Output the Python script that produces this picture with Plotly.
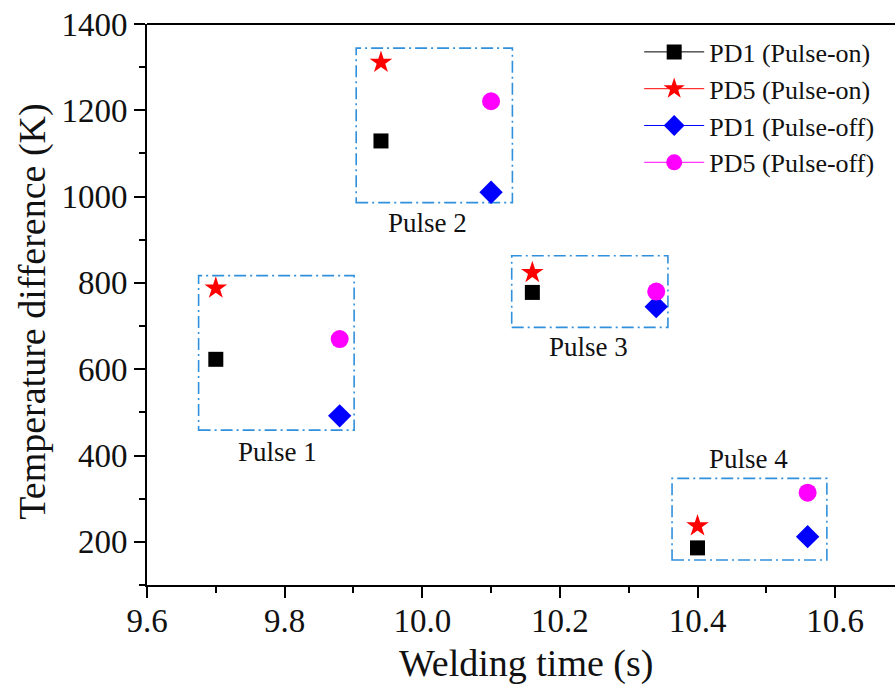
import plotly.graph_objects as go

# Welding time (s) of each pulse, on and off phases
time_on = [9.70, 9.94, 10.16, 10.40]
time_off = [9.88, 10.10, 10.34, 10.56]

# Temperature difference (K)
pd1_on = [623, 1129, 778, 186]
pd5_on = [788, 1311, 824, 237]
pd1_off = [492, 1010, 745, 212]
pd5_off = [670, 1221, 780, 314]

# Pulse grouping boxes: (x0, x1, y0, y1) and label anchor (x, y)
pulse_names = ["Pulse 1", "Pulse 2", "Pulse 3", "Pulse 4"]
box_x0 = [9.675, 9.904, 10.130, 10.363]
box_x1 = [9.901, 10.131, 10.357, 10.588]
box_y0 = [459, 986, 697, 158]
box_y1 = [817, 1344, 863, 347]
label_x = [9.79, 10.007, 10.241, 10.474]
label_y = [408, 938, 651, 393]

FONT = "Liberation Serif, Times New Roman, serif"

series = [
    ("PD1 (Pulse-on)", time_on, pd1_on, "square", "#000000", 15),
    ("PD5 (Pulse-on)", time_on, pd5_on, "star", "#ff0000", 17),
    ("PD1 (Pulse-off)", time_off, pd1_off, "diamond", "#0000ff", 18),
    ("PD5 (Pulse-off)", time_off, pd5_off, "circle", "#ff00ff", 18),
]

fig = go.Figure()
for name, xs, ys, sym, col, sz in series:
    fig.add_trace(go.Scatter(
        x=xs, y=ys, mode="markers", name=name, showlegend=False,
        marker=dict(symbol=sym, color=col, size=sz, line=dict(width=0)),
    ))
# legend entries drawn with a thin line through the symbol
for name, xs, ys, sym, col, sz in series:
    fig.add_trace(go.Scatter(
        x=[None], y=[None], mode="lines+markers", name=name,
        line=dict(color=col, width=1),
        marker=dict(symbol=sym, color=col, size=sz, line=dict(width=0)),
    ))

shapes = []
for x0, x1, y0, y1 in zip(box_x0, box_x1, box_y0, box_y1):
    shapes.append(dict(
        type="rect", xref="x", yref="y", x0=x0, x1=x1, y0=y0, y1=y1,
        line=dict(color="#3090dc", width=1.6, dash="12px,4px,2px,4px"),
        fillcolor="rgba(0,0,0,0)", layer="below",
    ))
# top frame line
shapes.append(dict(type="line", xref="paper", yref="paper", x0=0, x1=1, y0=1, y1=1,
                   line=dict(color="#000000", width=2)))

annotations = []
for name, lx, ly in zip(pulse_names, label_x, label_y):
    annotations.append(dict(
        x=lx, y=ly, xref="x", yref="y", text=name, showarrow=False,
        xanchor="center", yanchor="middle",
        font=dict(family=FONT, size=27, color="#111111"),
    ))
annotations.append(dict(
    x=0.5067, y=-0.14, xref="paper", yref="paper", text="Welding time (s)",
    showarrow=False, xanchor="center", yanchor="middle",
    font=dict(family=FONT, size=38, color="#111111"),
))
annotations.append(dict(
    x=-0.1524, y=0.487, xref="paper", yref="paper", text="Temperature difference (K)",
    showarrow=False, xanchor="center", yanchor="middle", textangle=-90,
    font=dict(family=FONT, size=38, color="#111111"),
))

axis_common = dict(
    showline=True, linecolor="#000000", linewidth=2, mirror=False,
    ticks="outside", ticklen=11, tickwidth=2, tickcolor="#000000",
    showgrid=False, zeroline=False,
    tickfont=dict(family=FONT, size=33, color="#111111"),
)

fig.update_layout(
    width=895, height=691,
    margin=dict(l=147, r=0, t=24, b=106),
    paper_bgcolor="#ffffff", plot_bgcolor="#ffffff",
    xaxis=dict(range=[9.6, 10.687], tick0=9.6, dtick=0.2, tickformat=".1f",
               ticklabelstandoff=-6,
               minor=dict(ticks="outside", ticklen=6, tickwidth=2, tickcolor="#000000", dtick=0.1),
               **axis_common),
    yaxis=dict(range=[100, 1400], tick0=200, dtick=200,
               minor=dict(ticks="outside", ticklen=6, tickwidth=2, tickcolor="#000000", dtick=100, tick0=100),
               **axis_common),
    legend=dict(x=0.658, y=0.992, xanchor="left", yanchor="top",
                bgcolor="rgba(0,0,0,0)", borderwidth=0, itemwidth=60,
                font=dict(family=FONT, size=26, color="#111111"),
                tracegroupgap=0),
    shapes=shapes, annotations=annotations,
    showlegend=True,
)

fig.write_html("out.html")
